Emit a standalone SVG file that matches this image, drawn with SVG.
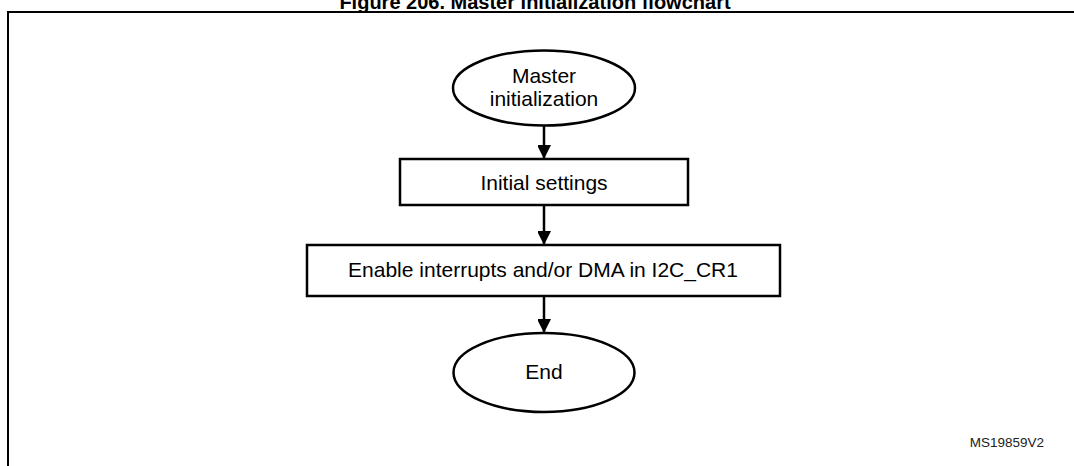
<svg xmlns="http://www.w3.org/2000/svg" width="1074" height="466" viewBox="0 0 1074 466">
<style>
.t{font-family:"Liberation Sans",Arial,sans-serif;font-size:21px;fill:#000;text-anchor:middle}
.shape{fill:#fff;stroke:#000;stroke-width:2.5}
.conn{stroke:#000;stroke-width:2.5;fill:none}
</style>
<defs>
<marker id="ah" markerUnits="userSpaceOnUse" markerWidth="14" markerHeight="13" refX="14" refY="7" orient="auto">
<path d="M0,0 L14,7 L0,14 Z" fill="#000"/>
</marker>
</defs>
<rect width="1074" height="466" fill="#fff"/>
<text x="535" y="9" style="font-family:'Liberation Sans',Arial,sans-serif;font-size:20px;font-weight:bold;text-anchor:middle">Figure 206. Master initialization flowchart</text>
<path d="M8,466 V12 H1074" fill="none" stroke="#000" stroke-width="2"/>
<g id="connectors">
<line class="conn" x1="544" y1="126" x2="544" y2="159" marker-end="url(#ah)"/>
<line class="conn" x1="544" y1="205" x2="544" y2="245" marker-end="url(#ah)"/>
<line class="conn" x1="544" y1="296" x2="544" y2="333" marker-end="url(#ah)"/>
</g>
<g id="n-master">
<ellipse class="shape" cx="544" cy="88" rx="91" ry="37.5"/>
<text class="t" x="544" y="83">Master</text>
<text class="t" x="544" y="106">initialization</text>
</g>
<g id="n-initial">
<rect class="shape" x="400" y="159" width="288" height="46"/>
<text class="t" x="544" y="190">Initial settings</text>
</g>
<g id="n-enable">
<rect class="shape" x="307" y="245" width="473" height="51"/>
<text class="t" x="543" y="277">Enable interrupts and/or DMA in I2C_CR1</text>
</g>
<g id="n-end">
<ellipse class="shape" cx="544" cy="372.5" rx="90.5" ry="39.5"/>
<text class="t" x="544" y="379">End</text>
</g>
<text x="1044" y="447" style="font-family:'Liberation Sans',Arial,sans-serif;font-size:13.5px;text-anchor:end;fill:#222">MS19859V2</text>
</svg>
